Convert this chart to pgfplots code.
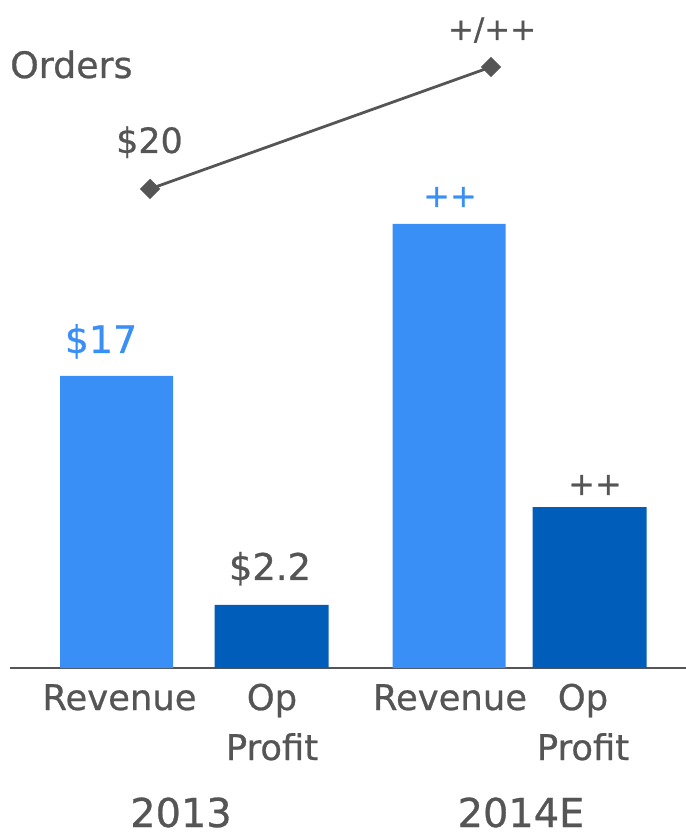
\documentclass[border=0pt]{standalone}
\usepackage{pgfplots}
\pgfplotsset{compat=1.18}
\usepackage{fontspec}
\setmainfont{DejaVu Sans}[BoldFont=DejaVu Sans, BoldFeatures={FakeBold=0.7}]
\definecolor{lblue}{HTML}{3A8FF6}
\definecolor{dblue}{HTML}{005DB9}
\definecolor{tgray}{HTML}{555555}
\newcommand{\fs}[1]{\fontsize{#1}{#1}\selectfont\bfseries}
\begin{document}
\begin{tikzpicture}[x=1bp,y=1bp]
\begin{axis}[
  at={(0,0)}, anchor=south west,
  scale only axis, width=676bp, height=668bp,
  xmin=10, xmax=686, ymin=0, ymax=38.89,
  hide y axis,
  axis x line=bottom,
  x axis line style={-, tgray, line width=2.5bp},
  xtick=\empty,
  clip=false,
]
% Revenue bars (2013, 2014E)
\addplot[ybar, bar shift=0pt, bar width=113, fill=lblue, draw=none]
  coordinates {(116.5,17) (449,25.85)};
% Op Profit bars (2013, 2014E)
\addplot[ybar, bar shift=0pt, bar width=114, fill=dblue, draw=none]
  coordinates {(271.5,3.67) (589.5,9.37)};
% Orders line
\addplot[tgray, line width=2.8bp, mark=square*, mark size=5.8bp,
  mark options={fill=tgray, rotate=45, solid}]
  coordinates {(150,27.89) (491,34.99)};
\end{axis}
\begin{scope}[tgray]
\node[anchor=base west, inner sep=0] at (0,590) {\fs{36.5}Orders};
\node[anchor=base, inner sep=0] at (139.5,515) {\fs{35}\$20};
\node[anchor=base, inner sep=0] at (482,628) {\fs{31}+/++};
\node[anchor=base, inner sep=0, text=lblue] at (91,315) {\fs{38}\$17};
\node[anchor=base, inner sep=0, text=lblue] at (440,461) {\fs{32}++};
\node[anchor=base, inner sep=0] at (260,88) {\fs{37}\$2.2};
\node[anchor=base, inner sep=0] at (585,173) {\fs{32}++};
\node[anchor=base, inner sep=0] at (109.5,-42) {\fs{35.5}Revenue};
\node[anchor=base, inner sep=0] at (262,-42) {\fs{35.5}Op};
\node[anchor=base, inner sep=0] at (262,-92) {\fs{35.5}Profit};
\node[anchor=base, inner sep=0] at (440,-42) {\fs{35.5}Revenue};
\node[anchor=base, inner sep=0] at (573,-42) {\fs{35.5}Op};
\node[anchor=base, inner sep=0] at (573,-92) {\fs{35.5}Profit};
\node[anchor=base, inner sep=0] at (171,-159) {\fs{40}2013};
\node[anchor=base, inner sep=0] at (511,-159) {\fs{40}2014E};
\end{scope}
\pgfresetboundingbox
\path (-10,-166) rectangle (676,668);
\end{tikzpicture}
\end{document}
